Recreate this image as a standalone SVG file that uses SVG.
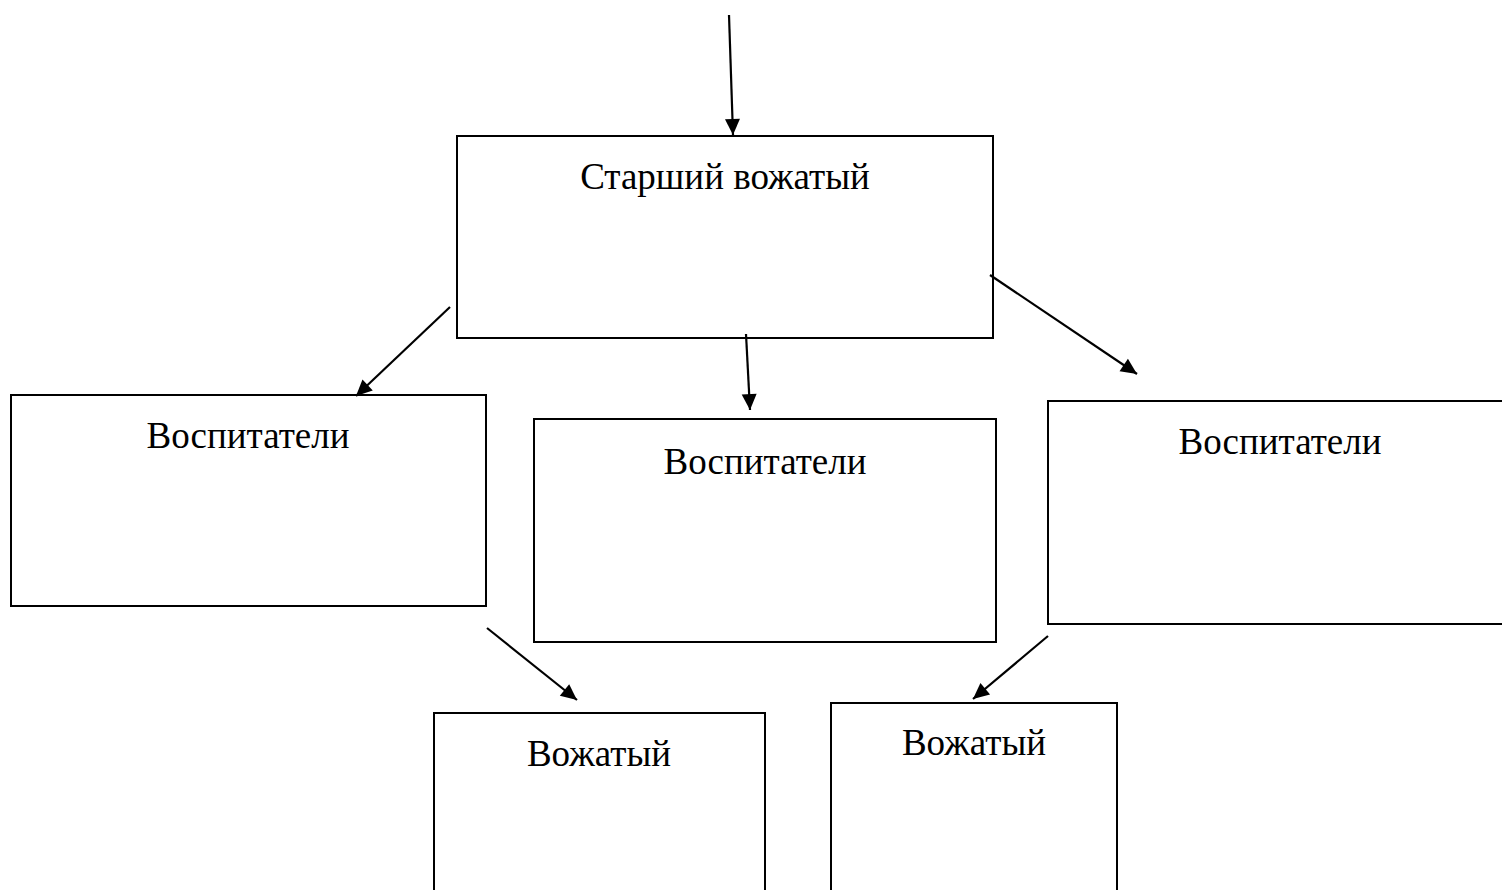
<svg xmlns="http://www.w3.org/2000/svg" width="1502" height="890" viewBox="0 0 1502 890">
<style>
.box{fill:#fff;stroke:#000;stroke-width:2}
.lbl{font-family:"Liberation Serif","Times New Roman",serif;font-size:37px;fill:#000;text-anchor:middle}
.con line{stroke:#000;stroke-width:2.2}
</style>
<defs>
<marker id="ah" markerUnits="userSpaceOnUse" markerWidth="18" markerHeight="18" viewBox="0 0 18 18" refX="17" refY="9" orient="auto">
<path d="M1,1.5 L17,9 L1,16.5 Z" fill="#000"/>
</marker>
</defs>
<rect width="1502" height="890" fill="#fff"/>
<g id="n-senior">
<rect class="box" x="457" y="136" width="536" height="202"/>
<text class="lbl" x="725" y="189">Старший вожатый</text>
</g>
<g id="n-edu-left">
<rect class="box" x="11" y="395" width="475" height="211"/>
<text class="lbl" x="248" y="448">Воспитатели</text>
</g>
<g id="n-edu-mid">
<rect class="box" x="534" y="419" width="462" height="223"/>
<text class="lbl" x="765" y="474">Воспитатели</text>
</g>
<g id="n-edu-right">
<rect class="box" x="1048" y="401" width="470" height="223"/>
<text class="lbl" x="1280" y="454">Воспитатели</text>
</g>
<g id="n-leader-left">
<rect class="box" x="434" y="713" width="331" height="190"/>
<text class="lbl" x="599" y="766">Вожатый</text>
</g>
<g id="n-leader-right">
<rect class="box" x="831" y="703" width="286" height="200"/>
<text class="lbl" x="974" y="755">Вожатый</text>
</g>
<g id="connectors" class="con">
<line x1="729" y1="15" x2="733" y2="135" marker-end="url(#ah)"/>
<line x1="450" y1="307" x2="356" y2="396" marker-end="url(#ah)"/>
<line x1="746" y1="334" x2="750" y2="410" marker-end="url(#ah)"/>
<line x1="990" y1="275" x2="1137" y2="374" marker-end="url(#ah)"/>
<line x1="487" y1="628" x2="577" y2="700" marker-end="url(#ah)"/>
<line x1="1048" y1="636" x2="973" y2="699" marker-end="url(#ah)"/>
</g>
</svg>
